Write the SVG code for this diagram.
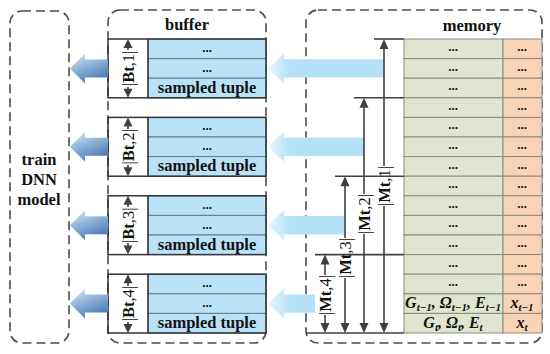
<svg xmlns="http://www.w3.org/2000/svg" width="550" height="354" viewBox="0 0 550 354">
<defs>
<style>
.dash{fill:none;stroke:#4d4d4d;stroke-width:1.6;stroke-dasharray:9 5}
.t{font-family:"Liberation Serif",serif;font-weight:bold;fill:#111;font-size:16.5px;text-anchor:middle}
.dots{font-family:"Liberation Serif",serif;font-weight:bold;fill:#111;font-size:13px;text-anchor:middle}
.lbl{font-family:"Liberation Serif",serif;fill:#111;font-size:16.5px;text-anchor:middle;dominant-baseline:central}
.b{font-weight:bold}
.fm{font-family:"Liberation Serif",serif;font-weight:bold;font-style:italic;fill:#111;font-size:16px;text-anchor:middle}
.sub{font-size:11px}
.brow{fill:#b9e2f8;stroke:#5e7d8c;stroke-width:1}
.frame{fill:none;stroke:#333;stroke-width:1.5}
.g{fill:#dfe5ce;stroke:#8a8a80;stroke-width:1}
.o{fill:#f9d3b6;stroke:#8a8a80;stroke-width:1}
.ln{stroke:#404040;stroke-width:1.6;fill:none}
.ah{fill:#404040}
.la{fill:url(#lg)}
.ra{fill:url(#rg)}
</style>
<linearGradient id="lg" x1="0" y1="0" x2="0.5" y2="1">
<stop offset="0" stop-color="#e4eef8"/>
<stop offset="0.5" stop-color="#8fb4da"/>
<stop offset="1" stop-color="#4c7db5"/>
</linearGradient>
<linearGradient id="rg" gradientUnits="userSpaceOnUse" x1="268" y1="0" x2="290" y2="0">
<stop offset="0" stop-color="#eaf6fd"/>
<stop offset="1" stop-color="#b5e1f8"/>
</linearGradient>
</defs>

<g id="train">
<rect class="dash" x="10" y="11" width="59" height="332" rx="12"/>
<text class="t" x="39" y="165">train</text>
<text class="t" x="39" y="185">DNN</text>
<text class="t" x="39" y="205">model</text>
</g>

<g id="buffer">
<rect class="dash" x="108" y="10" width="158" height="333" rx="12"/>
<text class="t" x="187" y="30">buffer</text>
</g>

<g id="memory">
<rect class="dash" x="306" y="10" width="236" height="333" rx="12"/>
<text class="t" x="472" y="31">memory</text>
</g>

<g id="buffer-group-1">
<rect class="brow" x="148" y="39" width="118" height="19.6"/>
<rect class="brow" x="148" y="58.6" width="118" height="19.6"/>
<rect class="brow" x="148" y="78.2" width="118" height="19.6"/>
<rect class="frame" x="108" y="39" width="158" height="58.8"/>
<line class="frame" x1="148" y1="39" x2="148" y2="97.8"/>
<text class="dots" x="207" y="52">...</text>
<text class="dots" x="207" y="72">...</text>
<text class="t" x="207" y="93">sampled tuple</text>
</g>
<g id="buffer-group-2">
<rect class="brow" x="148" y="117.4" width="118" height="19.6"/>
<rect class="brow" x="148" y="137" width="118" height="19.6"/>
<rect class="brow" x="148" y="156.6" width="118" height="19.6"/>
<rect class="frame" x="108" y="117.4" width="158" height="58.8"/>
<line class="frame" x1="148" y1="117.4" x2="148" y2="176.2"/>
<text class="dots" x="207" y="130.4">...</text>
<text class="dots" x="207" y="150.4">...</text>
<text class="t" x="207" y="171.4">sampled tuple</text>
</g>
<g id="buffer-group-3">
<rect class="brow" x="148" y="195.8" width="118" height="19.6"/>
<rect class="brow" x="148" y="215.4" width="118" height="19.6"/>
<rect class="brow" x="148" y="235" width="118" height="19.6"/>
<rect class="frame" x="108" y="195.8" width="158" height="58.8"/>
<line class="frame" x1="148" y1="195.8" x2="148" y2="254.6"/>
<text class="dots" x="207" y="208.8">...</text>
<text class="dots" x="207" y="228.8">...</text>
<text class="t" x="207" y="249.8">sampled tuple</text>
</g>
<g id="buffer-group-4">
<rect class="brow" x="148" y="274.2" width="118" height="19.6"/>
<rect class="brow" x="148" y="293.8" width="118" height="19.6"/>
<rect class="brow" x="148" y="313.4" width="118" height="19.6"/>
<rect class="frame" x="108" y="274.2" width="158" height="58.8"/>
<line class="frame" x1="148" y1="274.2" x2="148" y2="333"/>
<text class="dots" x="207" y="287.2">...</text>
<text class="dots" x="207" y="307.2">...</text>
<text class="t" x="207" y="328.2">sampled tuple</text>
</g>

<g id="memory-table">
<rect class="g" x="404" y="39" width="99" height="19.6"/><rect class="o" x="503" y="39" width="39" height="19.6"/>
<rect class="g" x="404" y="58.6" width="99" height="19.6"/><rect class="o" x="503" y="58.6" width="39" height="19.6"/>
<rect class="g" x="404" y="78.2" width="99" height="19.6"/><rect class="o" x="503" y="78.2" width="39" height="19.6"/>
<rect class="g" x="404" y="97.8" width="99" height="19.6"/><rect class="o" x="503" y="97.8" width="39" height="19.6"/>
<rect class="g" x="404" y="117.4" width="99" height="19.6"/><rect class="o" x="503" y="117.4" width="39" height="19.6"/>
<rect class="g" x="404" y="137" width="99" height="19.6"/><rect class="o" x="503" y="137" width="39" height="19.6"/>
<rect class="g" x="404" y="156.6" width="99" height="19.6"/><rect class="o" x="503" y="156.6" width="39" height="19.6"/>
<rect class="g" x="404" y="176.2" width="99" height="19.6"/><rect class="o" x="503" y="176.2" width="39" height="19.6"/>
<rect class="g" x="404" y="195.8" width="99" height="19.6"/><rect class="o" x="503" y="195.8" width="39" height="19.6"/>
<rect class="g" x="404" y="215.4" width="99" height="19.6"/><rect class="o" x="503" y="215.4" width="39" height="19.6"/>
<rect class="g" x="404" y="235" width="99" height="19.6"/><rect class="o" x="503" y="235" width="39" height="19.6"/>
<rect class="g" x="404" y="254.6" width="99" height="19.6"/><rect class="o" x="503" y="254.6" width="39" height="19.6"/>
<rect class="g" x="404" y="274.2" width="99" height="19.6"/><rect class="o" x="503" y="274.2" width="39" height="19.6"/>
<rect class="g" x="404" y="293.8" width="99" height="19.6"/><rect class="o" x="503" y="293.8" width="39" height="19.6"/>
<rect class="g" x="404" y="313.4" width="99" height="19.6"/><rect class="o" x="503" y="313.4" width="39" height="19.6"/>
<g class="dots">
<text x="453" y="51">...</text><text x="522" y="51">...</text>
<text x="453" y="70.6">...</text><text x="522" y="70.6">...</text>
<text x="453" y="90.2">...</text><text x="522" y="90.2">...</text>
<text x="453" y="109.8">...</text><text x="522" y="109.8">...</text>
<text x="453" y="129.4">...</text><text x="522" y="129.4">...</text>
<text x="453" y="149">...</text><text x="522" y="149">...</text>
<text x="453" y="168.6">...</text><text x="522" y="168.6">...</text>
<text x="453" y="188.2">...</text><text x="522" y="188.2">...</text>
<text x="453" y="207.8">...</text><text x="522" y="207.8">...</text>
<text x="453" y="227.4">...</text><text x="522" y="227.4">...</text>
<text x="453" y="247">...</text><text x="522" y="247">...</text>
<text x="453" y="266.6">...</text><text x="522" y="266.6">...</text>
<text x="453" y="286.2">...</text><text x="522" y="286.2">...</text>
</g>
<text class="fm" x="453" y="308">G<tspan class="sub" dy="3">t−1</tspan><tspan dy="-3">, Ω</tspan><tspan class="sub" dy="3">t−1</tspan><tspan dy="-3">, E</tspan><tspan class="sub" dy="3">t−1</tspan></text>
<text class="fm" x="453" y="327.6">G<tspan class="sub" dy="3">t</tspan><tspan dy="-3">, Ω</tspan><tspan class="sub" dy="3">t</tspan><tspan dy="-3">, E</tspan><tspan class="sub" dy="3">t</tspan></text>
<text class="fm" x="522" y="308">x<tspan class="sub" dy="3">t−1</tspan></text>
<text class="fm" x="522" y="327.6">x<tspan class="sub" dy="3">t</tspan></text>
</g>

<g id="connectors">
<path class="la" d="M70,68.4 L85,53.4 L85,59.4 L108,59.4 L108,77.4 L85,77.4 L85,83.4 Z"/>
<path class="la" d="M70,146.8 L85,131.8 L85,137.8 L108,137.8 L108,155.8 L85,155.8 L85,161.8 Z"/>
<path class="la" d="M70,225.2 L85,210.2 L85,216.2 L108,216.2 L108,234.2 L85,234.2 L85,240.2 Z"/>
<path class="la" d="M70,303.6 L85,288.6 L85,294.6 L108,294.6 L108,312.6 L85,312.6 L85,318.6 Z"/>
<path class="ra" d="M268,68.4 L284,53.4 L284,59.2 L384,59.2 L384,77.6 L284,77.6 L284,83.4 Z"/>
<path class="ra" d="M268,146.8 L284,131.8 L284,137.6 L364,137.6 L364,156 L284,156 L284,161.8 Z"/>
<path class="ra" d="M268,225.2 L284,210.2 L284,216 L344,216 L344,234.4 L284,234.4 L284,240.2 Z"/>
<path class="ra" d="M268,303.6 L284,288.6 L284,294.4 L315,294.4 L315,312.8 L284,312.8 L284,318.6 Z"/>

<g>
<line class="ln" x1="128" y1="46" x2="128" y2="50"/><polygon class="ah" points="128,39 123.5,48 132.5,48"/>
<line class="ln" x1="128" y1="87" x2="128" y2="90"/><polygon class="ah" points="128,97.8 123.5,88.8 132.5,88.8"/>
<text class="lbl" transform="translate(128,68.4) rotate(-90)">|<tspan class="b">Bt</tspan>,1|</text>
</g>
<g>
<line class="ln" x1="128" y1="124" x2="128" y2="129"/><polygon class="ah" points="128,117.4 123.5,126.4 132.5,126.4"/>
<line class="ln" x1="128" y1="165" x2="128" y2="168"/><polygon class="ah" points="128,176.2 123.5,167.2 132.5,167.2"/>
<text class="lbl" transform="translate(128,146.8) rotate(-90)">|<tspan class="b">Bt</tspan>,2|</text>
</g>
<g>
<line class="ln" x1="128" y1="203" x2="128" y2="207"/><polygon class="ah" points="128,195.8 123.5,204.8 132.5,204.8"/>
<line class="ln" x1="128" y1="243" x2="128" y2="247"/><polygon class="ah" points="128,254.6 123.5,245.6 132.5,245.6"/>
<text class="lbl" transform="translate(128,225.2) rotate(-90)">|<tspan class="b">Bt</tspan>,3|</text>
</g>
<g>
<line class="ln" x1="128" y1="281" x2="128" y2="286"/><polygon class="ah" points="128,274.2 123.5,283.2 132.5,283.2"/>
<line class="ln" x1="128" y1="322" x2="128" y2="325"/><polygon class="ah" points="128,333 123.5,324 132.5,324"/>
<text class="lbl" transform="translate(128,303.6) rotate(-90)">|<tspan class="b">Bt</tspan>,4|</text>
</g>

<line class="ln" x1="374" y1="39" x2="404" y2="39"/>
<line class="ln" x1="354" y1="97.8" x2="404" y2="97.8"/>
<line class="ln" x1="335" y1="176.2" x2="404" y2="176.2"/>
<line class="ln" x1="315" y1="254.6" x2="404" y2="254.6"/>
<line class="ln" x1="306" y1="333" x2="404" y2="333"/>

<g>
<line class="ln" x1="384" y1="46" x2="384" y2="166"/>
<line class="ln" x1="384" y1="206" x2="384" y2="326"/>
<polygon class="ah" points="384,39 379.5,49 388.5,49"/><polygon class="ah" points="384,333 379.5,323 388.5,323"/>
<text class="lbl" transform="translate(384,186) rotate(-90)">|<tspan class="b">Mt</tspan>,1|</text>
</g>
<g>
<line class="ln" x1="364" y1="105" x2="364" y2="194"/>
<line class="ln" x1="364" y1="234" x2="364" y2="326"/>
<polygon class="ah" points="364,97.8 359.5,107.8 368.5,107.8"/><polygon class="ah" points="364,333 359.5,323 368.5,323"/>
<text class="lbl" transform="translate(364,214) rotate(-90)">|<tspan class="b">Mt</tspan>,2|</text>
</g>
<g>
<line class="ln" x1="345" y1="183" x2="345" y2="238"/>
<line class="ln" x1="345" y1="278" x2="345" y2="326"/>
<polygon class="ah" points="345,176.2 340.5,186.2 349.5,186.2"/><polygon class="ah" points="345,333 340.5,323 349.5,323"/>
<text class="lbl" transform="translate(345,258) rotate(-90)">|<tspan class="b">Mt</tspan>,3|</text>
</g>
<g>
<line class="ln" x1="325" y1="262" x2="325" y2="275"/>
<line class="ln" x1="325" y1="315" x2="325" y2="326"/>
<polygon class="ah" points="325,254.6 320.5,264.6 329.5,264.6"/><polygon class="ah" points="325,333 320.5,323 329.5,323"/>
<text class="lbl" transform="translate(325,295) rotate(-90)">|<tspan class="b">Mt</tspan>,4|</text>
</g>
</g>
</svg>
